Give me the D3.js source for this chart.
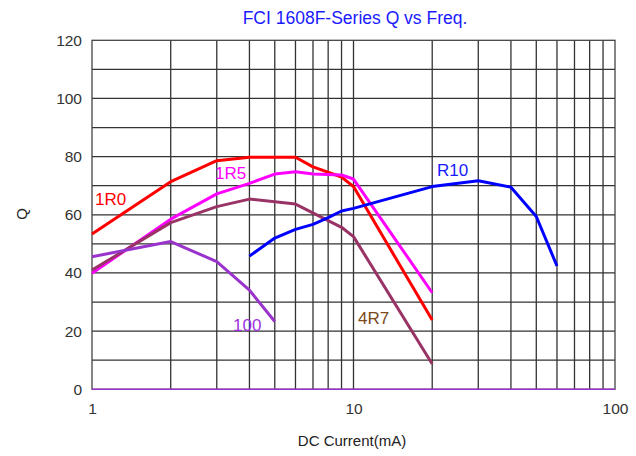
<!DOCTYPE html>
<html>
<head>
<script src="https://d3js.org/d3.v7.min.js"></script>
<style>
  body { margin: 0; background: white; }
  text { font-family: "Liberation Sans", Arial, sans-serif; }
</style>
</head>
<body>
<script>
// data
const xTicks = [1, 10, 100];
const yTicks = [0, 20, 40, 60, 80, 100, 120];

const x1R0 = [1, 2, 3, 4, 6, 7, 9, 10, 20];
const q1R0 = [53.4, 71.4, 78.6, 79.8, 79.8, 76.5, 73.0, 69.7, 23.8];

const x1R5 = [1, 2, 3, 4, 5, 6, 7, 9, 10, 20];
const q1R5 = [39.9, 58.5, 67.2, 70.8, 74.0, 74.8, 74.0, 73.7, 72.3, 33.2];

const x4R7 = [1, 2, 3, 4, 6, 9, 10, 20];
const q4R7 = [41.0, 57.3, 62.8, 65.4, 63.7, 55.7, 52.5, 8.7];

const x100 = [1, 2, 3, 4, 5];
const q100 = [45.6, 50.8, 43.9, 34.1, 23.3];

const xR10 = [4, 5, 6, 7, 8, 9, 10, 20, 30, 40, 50, 60];
const qR10 = [45.8, 52.0, 55.0, 56.7, 59.0, 61.3, 62.2, 69.7, 71.7, 69.5, 59.4, 42.4];

const series = [
  {name: "1R0", xs: x1R0, qs: q1R0, color: "#ff0000", label: [95, 205], labelColor: "#ff0000"},
  {name: "1R5", xs: x1R5, qs: q1R5, color: "#ff00ff", label: [215, 179], labelColor: "#ff00ff"},
  {name: "4R7", xs: x4R7, qs: q4R7, color: "#993366", label: [358, 324], labelColor: "#7a4a1a"},
  {name: "100", xs: x100, qs: q100, color: "#9933cc", label: [233, 331], labelColor: "#a030e0"},
  {name: "R10", xs: xR10, qs: qR10, color: "#0000ff", label: [437, 176], labelColor: "#1a1aff"}
];

const width = 636, height = 456;
const padL = 92, padR = 615, padT = 40.3, padB = 389.3;

const svg = d3.select("body").append("svg").attr("width", width).attr("height", height);

const x = d3.scaleLog().domain([1, 100]).range([padL, padR]);
const y = d3.scaleLinear().domain([0, 120]).range([padB, padT]);

// grid
const xGrid = [];
for (let d = 1; d < 100; d *= 10) for (let k = 2; k <= 9; k++) xGrid.push(d * k);
xGrid.push(10);
svg.append("g").selectAll("line").data(xGrid).join("line")
  .attr("x1", d => x(d)).attr("x2", d => x(d))
  .attr("y1", padT).attr("y2", padB)
  .attr("stroke", "#333").attr("stroke-width", 1.3);

svg.append("g").selectAll("line").data(d3.range(10, 120, 10)).join("line")
  .attr("x1", padL).attr("x2", padR)
  .attr("y1", d => y(d)).attr("y2", d => y(d))
  .attr("stroke", "#333").attr("stroke-width", 1.3);

svg.append("rect").attr("x", padL).attr("y", padT)
  .attr("width", padR - padL).attr("height", padB - padT)
  .attr("fill", "none").attr("stroke", "#444").attr("stroke-width", 1.3);

// bottom axis line (purple in the original)
svg.append("line").attr("x1", padL).attr("x2", padR).attr("y1", padB).attr("y2", padB)
  .attr("stroke", "#9933cc").attr("stroke-width", 1.5);

// axes
const yAxis = svg.append("g").attr("transform", `translate(${padL},0)`)
  .call(d3.axisLeft(y).tickValues(yTicks).tickSize(0).tickPadding(10));
yAxis.select(".domain").remove();
yAxis.selectAll("text").attr("font-size", 15.5).attr("fill", "#333")
  .style("font-family", "'Liberation Sans', Arial, sans-serif");

const xAxis = svg.append("g").attr("transform", `translate(0,${padB})`)
  .call(d3.axisBottom(x).tickValues(xTicks).tickFormat(d3.format("d")).tickSize(0).tickPadding(14));
xAxis.select(".domain").remove();
xAxis.selectAll("text").attr("font-size", 15.5).attr("fill", "#333")
  .style("font-family", "'Liberation Sans', Arial, sans-serif");

// lines
const line = d3.line().x(d => x(d[0])).y(d => y(d[1]));
series.forEach(s => {
  svg.append("path")
    .datum(s.xs.map((v, i) => [v, s.qs[i]]))
    .attr("d", line)
    .attr("fill", "none")
    .attr("stroke", s.color)
    .attr("stroke-width", 3)
    .attr("stroke-linejoin", "round");
  svg.append("text")
    .attr("x", s.label[0]).attr("y", s.label[1])
    .attr("fill", s.labelColor).attr("font-size", 17)
    .text(s.name);
});

// titles
svg.append("text").attr("x", 355).attr("y", 24).attr("text-anchor", "middle")
  .attr("fill", "#1a1aff").attr("font-size", 17.5)
  .text("FCI 1608F-Series Q vs Freq.");

svg.append("text").attr("x", 352).attr("y", 446).attr("text-anchor", "middle")
  .attr("fill", "#222").attr("font-size", 15)
  .text("DC Current(mA)");

svg.append("text").attr("transform", "translate(27,214) rotate(-90)")
  .attr("text-anchor", "middle").attr("fill", "#222").attr("font-size", 15)
  .text("Q");
</script>
</body>
</html>
